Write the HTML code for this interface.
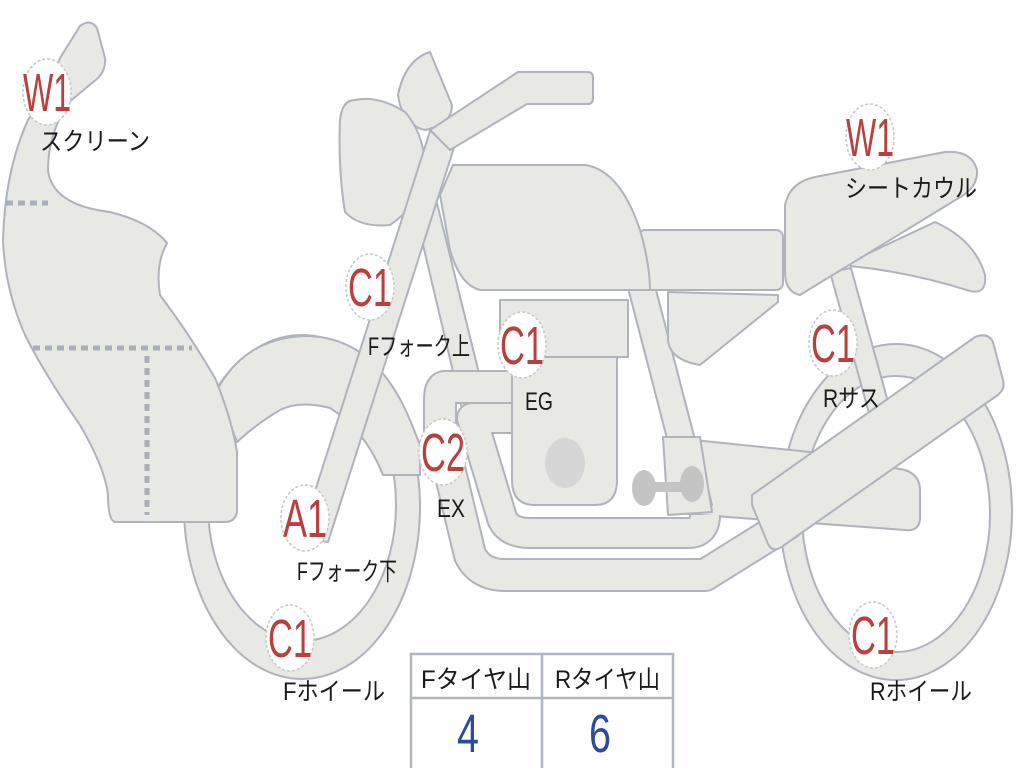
<!DOCTYPE html>
<html><head><meta charset="utf-8"><style>
html,body{margin:0;padding:0;background:#fff;}
svg{display:block;}
text{font-family:"Liberation Sans","Noto Sans CJK JP",sans-serif;}
.l{font-size:25px;fill:#1a1a1a;}
.b{font-size:54px;fill:#b8403e;}
</style></head><body>
<svg width="1024" height="768" viewBox="0 0 1024 768" xmlns="http://www.w3.org/2000/svg">
<g fill="#e8e8e4" stroke="#aeb3bd" stroke-width="2" stroke-linejoin="round">
<path fill-rule="evenodd" d="M780,512 a116,168 0 1,0 232,0 a116,168 0 1,0 -232,0 Z M802,514 a94,138 0 1,0 188,0 a94,138 0 1,0 -188,0 Z"/>
<polygon points="830,272 851,268 893,420 872,424"/>
<path d="M665,437 L810,452 L905,470 Q920,475 920,490 L920,520 Q918,532 905,530 L700,515 L668,512 Z"/>
<polygon points="628,288 655,286 712,505 685,508"/>
<path d="M663,437 L700,437 L712,512 L668,515 Z"/>
<!-- downtube (behind pipes) -->
<polygon points="410,190 433,187 490,418 465,422"/>
<path d="M512,387 L445,387 Q440,387 440,400 L440,430 L470,555 Q480,575 505,575 L705,575 L790,522" fill="none" stroke="#aeb3bd" stroke-width="34"/>
<path d="M512,387 L445,387 Q440,387 440,400 L440,430 L470,555 Q480,575 505,575 L705,575 L790,522" fill="none" stroke="#e8e8e4" stroke-width="30"/>
<path d="M512,418 L472,418 L502,518 Q508,533 530,533 L688,533 Q705,533 705,515" fill="none" stroke="#aeb3bd" stroke-width="32"/>
<path d="M512,418 L472,418 L502,518 Q508,533 530,533 L688,533 Q705,533 705,515" fill="none" stroke="#e8e8e4" stroke-width="28"/>
<rect x="500" y="300" width="128" height="57"/>
<path d="M512,357 L617,357 L617,480 Q617,505 595,505 L535,505 Q512,505 512,480 Z"/>
<path d="M752,495 L975,337 Q988,332 993,342 L1003,380 Q1006,390 995,397 L780,548 Q772,552 768,544 L752,505 Z"/>
<path d="M668,292 L778,295 L778,302 L700,365 Q670,360 668,340 Z"/>
<path d="M850,262 L935,222 Q975,240 985,275 Q987,295 970,291 Q910,272 850,266 Z"/>
<rect x="638" y="230" width="145" height="60" rx="7"/>
<path d="M785,205 Q790,182 815,177 L945,152 Q972,150 977,170 Q978,186 962,196 L800,295 Q785,292 785,272 Z"/>
<path d="M453,165 L585,165 Q620,170 640,230 Q650,265 650,290 L480,290 Q460,285 450,250 L440,195 Z"/>
<path fill-rule="evenodd" d="M184,507 a118,172 0 1,0 236,0 a118,172 0 1,0 -236,0 Z M208,505 a94,136 0 1,0 188,0 a94,136 0 1,0 -188,0 Z"/>
<path d="M217,390 Q245,338 305,336 Q375,336 410,420 L420,445 L420,475 L383,475 Q365,430 330,408 Q300,400 280,410 Q255,425 237,442 Z"/>
<path d="M430,52 Q405,60 398,95 Q402,125 425,130 Q452,125 452,105 Z"/>
<path d="M355,100 Q378,95 405,112 Q425,135 425,170 Q420,205 390,225 Q360,228 345,212 Q338,170 340,120 Q342,100 355,100 Z"/>
<polygon points="431,128 459,132 328,542 300,538"/>
<path d="M430,130 L518,72 L588,72 Q593,72 593,78 L593,98 Q593,104 588,104 L527,104 L450,150 Z"/>
<path d="M60,58 L80,26 Q90,18 97,28 L105,58 Q106,70 98,78 L68,103 Q48,135 48,170 Q52,205 110,212 Q150,222 167,243 Q155,265 160,295 Q190,335 215,378 Q232,420 237,452 L237,512 Q235,522 225,522 L115,522 Q108,520 108,495 Q105,468 80,425 Q45,375 25,335 Q5,290 3,240 Q5,170 28,120 L45,95 Z"/>
</g>
<g stroke="#aab0ba" stroke-width="5" stroke-dasharray="7,5" fill="none">
<line x1="6" y1="203" x2="48" y2="203"/>
<line x1="33" y1="348" x2="192" y2="348"/>
<line x1="147" y1="356" x2="147" y2="515"/>
</g>
<ellipse cx="565" cy="463" rx="20" ry="25" fill="#d6d6d6"/>
<g fill="#c4c4c4"><rect x="640" y="482" width="55" height="10"/><ellipse cx="644" cy="488" rx="12" ry="18"/><ellipse cx="692" cy="484" rx="12" ry="18"/></g>
<g fill="#fff" stroke="#c8c8c8" stroke-width="1.5" stroke-dasharray="3,2">
<ellipse cx="47" cy="92" rx="24" ry="33"/>
<ellipse cx="870" cy="137" rx="24" ry="33"/>
<ellipse cx="370" cy="287" rx="24" ry="33"/>
<ellipse cx="522" cy="345" rx="24" ry="33"/>
<ellipse cx="833" cy="343" rx="24" ry="33"/>
<ellipse cx="443" cy="452" rx="24" ry="33"/>
<ellipse cx="305" cy="518" rx="24" ry="33"/>
<ellipse cx="290" cy="638" rx="24" ry="33"/>
<ellipse cx="873" cy="635" rx="24" ry="33"/>
</g>
<g class="b" text-anchor="middle">
<text x="47" y="111" textLength="48" lengthAdjust="spacingAndGlyphs">W1</text>
<text x="870" y="156" textLength="48" lengthAdjust="spacingAndGlyphs">W1</text>
<text x="370" y="306" textLength="44" lengthAdjust="spacingAndGlyphs">C1</text>
<text x="522" y="364" textLength="44" lengthAdjust="spacingAndGlyphs">C1</text>
<text x="833" y="362" textLength="44" lengthAdjust="spacingAndGlyphs">C1</text>
<text x="443" y="471" textLength="44" lengthAdjust="spacingAndGlyphs">C2</text>
<text x="305" y="537" textLength="44" lengthAdjust="spacingAndGlyphs">A1</text>
<text x="290" y="657" textLength="44" lengthAdjust="spacingAndGlyphs">C1</text>
<text x="873" y="654" textLength="44" lengthAdjust="spacingAndGlyphs">C1</text>
</g>
<g class="l">
<text x="40" y="150" textLength="110" lengthAdjust="spacingAndGlyphs">スクリーン</text>
<text x="845" y="197" textLength="132" lengthAdjust="spacingAndGlyphs">シートカウル</text>
<text x="368" y="355" textLength="102" lengthAdjust="spacingAndGlyphs">Fフォーク上</text>
<text x="525" y="410" textLength="28" lengthAdjust="spacingAndGlyphs">EG</text>
<text x="823" y="407" textLength="57" lengthAdjust="spacingAndGlyphs">Rサス</text>
<text x="437" y="517" textLength="28" lengthAdjust="spacingAndGlyphs">EX</text>
<text x="297" y="580" textLength="100" lengthAdjust="spacingAndGlyphs">Fフォーク下</text>
<text x="283" y="700" textLength="102" lengthAdjust="spacingAndGlyphs">Fホイール</text>
<text x="870" y="700" textLength="102" lengthAdjust="spacingAndGlyphs">Rホイール</text>
</g>
<g fill="#fff" stroke="#b0b5bf" stroke-width="2.5">
<rect x="411" y="654" width="262" height="118"/>
<line x1="411" y1="698" x2="673" y2="698"/>
<line x1="542" y1="654" x2="542" y2="770"/>
</g>
<g class="l">
<text x="421" y="688" textLength="110" lengthAdjust="spacingAndGlyphs">Fタイヤ山</text>
<text x="555" y="688" textLength="105" lengthAdjust="spacingAndGlyphs">Rタイヤ山</text>
</g>
<g font-size="54" fill="#2b4c9e" text-anchor="middle">
<text x="468" y="752" textLength="22" lengthAdjust="spacingAndGlyphs">4</text>
<text x="600" y="752" textLength="22" lengthAdjust="spacingAndGlyphs">6</text>
</g>
</svg>
</body></html>
